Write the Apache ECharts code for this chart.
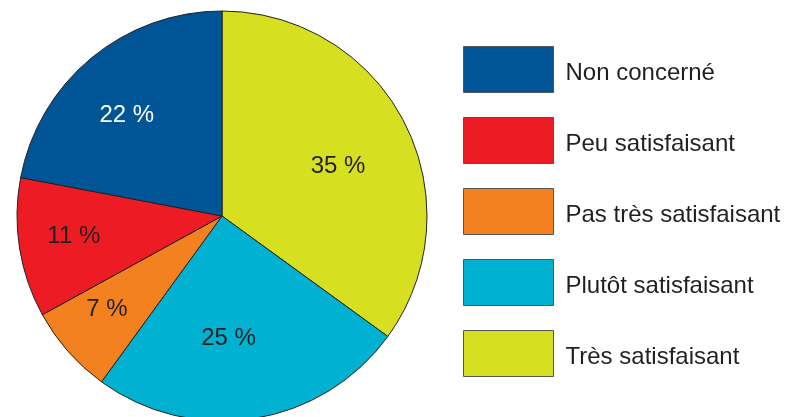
<!DOCTYPE html>
<html>
<head>
<meta charset="utf-8">
<script src="https://cdn.jsdelivr.net/npm/echarts@6/dist/echarts.min.js"></script>
<style>
  html, body { margin: 0; padding: 0; background: #fff; }
  #chart { width: 785px; height: 417px; }
</style>
</head>
<body>
<div id="chart"></div>
<script>
// Slices, clockwise from 12 o'clock
const categories = ['Très satisfaisant', 'Plutôt satisfaisant', 'Pas très satisfaisant', 'Peu satisfaisant', 'Non concerné']
const shares = [35, 25, 7, 11, 22]
const sliceColors = ['#d7df21', '#00b1d2', '#f48120', '#ed1c24', '#005596']
// Legend reads top to bottom in this order
const legendOrder = ['Non concerné', 'Peu satisfaisant', 'Pas très satisfaisant', 'Plutôt satisfaisant', 'Très satisfaisant']

// small nudges so the labels sit where the print has them
const labelOffsets = [[22, -2], [-10, 18], [-36, 24], [-44, 4], [-28, -19]]
const labelColors = ['#231f20', '#231f20', '#231f20', '#231f20', '#ffffff']

const chart = echarts.init(document.getElementById('chart'))

const pieData = categories.map((name, i) => ({
  name: name,
  value: shares[i],
  itemStyle: { color: sliceColors[i] },
  label: { offset: labelOffsets[i], color: labelColors[i] },
}))

chart.setOption({
  animation: false,
  textStyle: { fontFamily: 'Liberation Sans, Arial, sans-serif' },
  legend: {
    orient: 'vertical',
    left: 463,
    top: 46,
    padding: 0,
    itemWidth: 90,
    itemHeight: 46,
    itemGap: 24,
    icon: 'rect',
    selectedMode: false,
    data: legendOrder,
    itemStyle: { borderColor: '#555', borderWidth: 1 },
    formatter: name => '{t|' + name + '}',
    textStyle: {
      rich: {
        t: {
          fontSize: 24,
          color: '#231f20',
          fontFamily: 'Liberation Sans, Arial, sans-serif',
          padding: [8, 0, 0, 7],
        },
      },
    },
  },
  series: [
    {
      type: 'pie',
      center: [222, 216],
      radius: 205,
      startAngle: 90,
      clockwise: true,
      silent: true,
      itemStyle: { borderColor: '#231f20', borderWidth: 1 },
      label: {
        show: true,
        position: 'inside',
        fontSize: 24,
        formatter: '{c} %',
      },
      labelLine: { show: false },
      data: pieData,
    },
  ],
})
</script>
</body>
</html>
